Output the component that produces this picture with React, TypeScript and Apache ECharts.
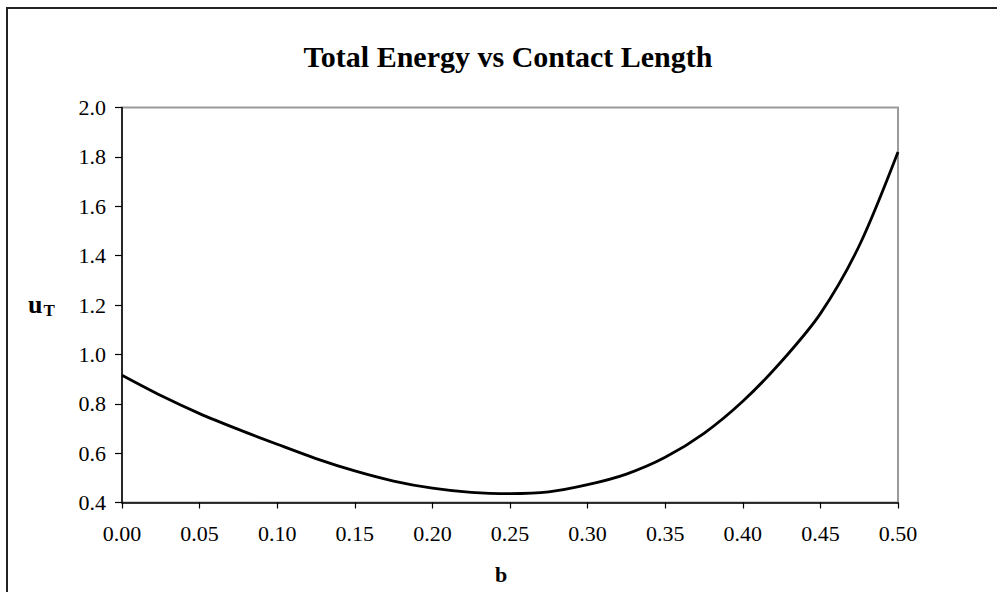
import React, { useEffect, useRef } from "react";
import * as echarts from "echarts";

const chartTitle = "Total Energy vs Contact Length";
const xAxisTitle = "b";
const yAxisTitleMain = "u";
const yAxisTitleSub = "T";

const bValues = [
  0, 0.025, 0.05, 0.075, 0.1, 0.125, 0.15, 0.175, 0.2, 0.225, 0.25,
  0.275, 0.3, 0.325, 0.35, 0.375, 0.4, 0.425, 0.45, 0.475, 0.5,
];
const uValues = [
  0.915, 0.833, 0.76, 0.696, 0.636, 0.578, 0.528, 0.487, 0.458, 0.441, 0.436,
  0.443, 0.472, 0.515, 0.583, 0.68, 0.81, 0.972, 1.165, 1.44, 1.82,
];

const serif = "'Liberation Serif', 'Times New Roman', serif";

export default function App() {
  const ref = useRef<HTMLDivElement>(null);

  useEffect(() => {
    if (!ref.current) return;
    const chart = echarts.init(ref.current, null, { renderer: "svg" });
    const data = bValues.map((b, i) => [b, uValues[i]]);
    chart.setOption({
      animation: false,
      backgroundColor: "#ffffff",
      grid: {
        left: 122,
        right: 99,
        top: 107.5,
        bottom: 89.5,
        show: true,
        borderColor: "#9a9a9a",
        borderWidth: 2,
        containLabel: false,
      },
      xAxis: {
        type: "value",
        min: 0,
        max: 0.5,
        interval: 0.05,
        axisLine: { show: true, onZero: false, lineStyle: { color: "#000", width: 1.5 } },
        axisTick: { show: true, inside: false, length: 6, lineStyle: { color: "#000", width: 1.2 } },
        axisLabel: {
          margin: 20,
          fontSize: 22,
          fontFamily: serif,
          color: "#000",
          formatter: (v: number) => v.toFixed(2),
        },
        splitLine: { show: false },
      },
      yAxis: {
        type: "value",
        min: 0.4,
        max: 2.0,
        interval: 0.2,
        axisLine: { show: true, onZero: false, lineStyle: { color: "#000", width: 1.5 } },
        axisTick: { show: true, inside: false, length: 7, lineStyle: { color: "#000", width: 1.2 } },
        axisLabel: {
          margin: 16,
          fontSize: 22,
          fontFamily: serif,
          color: "#000",
          formatter: (v: number) => v.toFixed(1),
        },
        splitLine: { show: false },
      },
      series: [
        {
          type: "line",
          data,
          smooth: 0.3,
          showSymbol: false,
          symbol: "none",
          lineStyle: { color: "#000", width: 2.8 },
        },
      ],
      graphic: [
        {
          type: "rect",
          shape: { x: 7, y: 8, width: 1100, height: 700 },
          style: { fill: "none", stroke: "#222", lineWidth: 2 },
          silent: true,
        },
        {
          type: "text",
          x: 508,
          y: 56.5,
          style: {
            text: chartTitle,
            font: `bold 30px ${serif}`,
            fill: "#000",
            align: "center",
            verticalAlign: "middle",
          },
        },
        {
          type: "text",
          x: 501,
          y: 574,
          style: {
            text: xAxisTitle,
            font: `bold 22px ${serif}`,
            fill: "#000",
            align: "center",
            verticalAlign: "middle",
          },
        },
        {
          type: "text",
          x: 28,
          y: 304.5,
          style: {
            text: yAxisTitleMain,
            font: `bold 26px ${serif}`,
            fill: "#000",
            align: "left",
            verticalAlign: "middle",
          },
        },
        {
          type: "text",
          x: 43.5,
          y: 310.5,
          style: {
            text: yAxisTitleSub,
            font: `bold 17px ${serif}`,
            fill: "#000",
            align: "left",
            verticalAlign: "middle",
          },
        },
      ],
    });
    return () => chart.dispose();
  }, []);

  return (
    <div
      ref={ref}
      style={{ position: "absolute", left: 0, top: 0, width: 997, height: 592 }}
    />
  );
}
